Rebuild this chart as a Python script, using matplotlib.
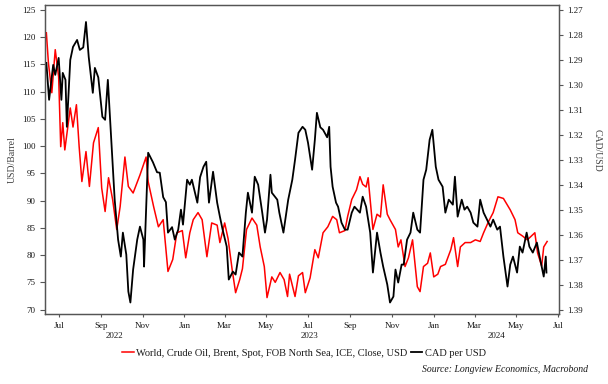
import matplotlib
matplotlib.use("Agg")
import matplotlib.pyplot as plt
import matplotlib.dates as mdates
import matplotlib.transforms as mtransforms
import pandas as pd

# Brent crude, USD/barrel (left axis)
brent_dates = [
    "2022-06-13", "2022-06-16", "2022-06-21", "2022-06-26", "2022-07-01", "2022-07-04", "2022-07-07",
    "2022-07-10", "2022-07-18", "2022-07-22", "2022-07-27", "2022-07-31", "2022-08-04", "2022-08-10",
    "2022-08-15", "2022-08-21", "2022-08-28", "2022-09-02", "2022-09-07", "2022-09-12", "2022-09-18",
    "2022-09-24", "2022-09-29", "2022-10-06", "2022-10-11", "2022-10-18", "2022-10-28", "2022-11-06",
    "2022-11-09", "2022-11-17", "2022-11-24", "2022-12-01", "2022-12-08", "2022-12-15", "2022-12-21",
    "2022-12-29", "2023-01-03", "2023-01-09", "2023-01-14", "2023-01-21", "2023-01-27", "2023-02-03",
    "2023-02-10", "2023-02-18", "2023-02-22", "2023-03-01", "2023-03-06", "2023-03-12", "2023-03-17",
    "2023-03-23", "2023-03-27", "2023-04-02", "2023-04-10", "2023-04-17", "2023-04-22", "2023-04-28",
    "2023-05-02", "2023-05-09", "2023-05-14", "2023-05-21", "2023-05-27", "2023-06-01", "2023-06-04",
    "2023-06-12", "2023-06-17", "2023-06-23", "2023-06-27", "2023-07-04", "2023-07-11", "2023-07-16",
    "2023-07-23", "2023-07-30", "2023-08-06", "2023-08-12", "2023-08-16", "2023-08-24", "2023-08-28",
    "2023-09-03", "2023-09-10", "2023-09-15", "2023-09-19", "2023-09-24", "2023-09-27", "2023-10-04",
    "2023-10-10", "2023-10-15", "2023-10-19", "2023-10-25", "2023-10-29", "2023-11-06", "2023-11-10",
    "2023-11-14", "2023-11-20", "2023-11-25", "2023-12-01", "2023-12-08", "2023-12-12", "2023-12-17",
    "2023-12-23", "2023-12-27", "2024-01-01", "2024-01-07", "2024-01-11", "2024-01-18", "2024-01-26",
    "2024-01-30", "2024-02-05", "2024-02-09", "2024-02-16", "2024-02-24", "2024-03-02", "2024-03-09",
    "2024-03-14", "2024-03-21", "2024-03-28", "2024-04-04", "2024-04-12", "2024-04-22", "2024-04-29",
    "2024-05-03", "2024-05-10", "2024-05-17", "2024-05-23", "2024-05-28", "2024-06-01", "2024-06-07",
    "2024-06-10", "2024-06-15",
]
brent_values = [
    120.8, 115.3, 109.8, 117.7, 112.7, 99.9, 104.3,
    99.3, 107.0, 103.5, 107.6, 99.9, 93.5, 99.0,
    92.6, 100.6, 103.4, 92.3, 88.0, 94.2, 90.2,
    84.7, 88.9, 98.0, 92.6, 91.4, 94.7, 98.0,
    93.5, 88.9, 85.2, 86.5, 77.0, 79.2, 84.1,
    84.5, 79.5, 84.1, 86.5, 87.8, 86.5, 79.7,
    85.9, 85.5, 82.3, 85.9, 83.0, 77.3, 73.1,
    75.5, 77.5, 84.7, 86.8, 85.5, 81.5, 77.9,
    72.2, 76.0, 75.0, 76.8, 75.5, 72.4, 76.5,
    72.4, 76.2, 76.8, 73.1, 75.8, 81.0, 79.5,
    84.1, 85.2, 87.1, 86.5, 84.1, 84.5, 87.1,
    90.2, 92.0, 94.4, 93.0, 92.5, 94.2, 84.7,
    87.5, 87.0, 92.9, 87.5, 86.5, 84.7, 81.5,
    82.8, 77.9, 79.5, 82.8, 74.2, 73.3, 77.9,
    78.5, 80.4, 76.0, 76.5, 77.9, 78.3, 81.0,
    83.2, 77.9, 81.5, 82.3, 82.3, 82.8, 82.5,
    84.1, 86.1, 87.8, 90.7, 90.4, 88.3, 86.5,
    84.1, 83.5, 82.8, 83.5, 84.1, 80.4, 78.0,
    81.5, 82.5,
]

# CAD per USD (right axis, inverted)
cad_dates = [
    "2022-06-13", "2022-06-17", "2022-06-23", "2022-06-26", "2022-07-01", "2022-07-05", "2022-07-07",
    "2022-07-11", "2022-07-13", "2022-07-18", "2022-07-22", "2022-07-28", "2022-08-01", "2022-08-06",
    "2022-08-10", "2022-08-14", "2022-08-20", "2022-08-23", "2022-08-28", "2022-09-03", "2022-09-07",
    "2022-09-11", "2022-09-17", "2022-09-21", "2022-09-26", "2022-09-30", "2022-10-03", "2022-10-08",
    "2022-10-11", "2022-10-14", "2022-10-18", "2022-10-24", "2022-10-28", "2022-11-02", "2022-11-03",
    "2022-11-09", "2022-11-16", "2022-11-22", "2022-11-26", "2022-12-01", "2022-12-05", "2022-12-08",
    "2022-12-14", "2022-12-18", "2022-12-23", "2022-12-27", "2022-12-30", "2023-01-05", "2023-01-09",
    "2023-01-12", "2023-01-20", "2023-01-24", "2023-01-29", "2023-02-02", "2023-02-06", "2023-02-12",
    "2023-02-18", "2023-02-22", "2023-02-26", "2023-03-04", "2023-03-07", "2023-03-13", "2023-03-17",
    "2023-03-22", "2023-03-27", "2023-04-01", "2023-04-04", "2023-04-10", "2023-04-14", "2023-04-19",
    "2023-04-25", "2023-04-29", "2023-05-02", "2023-05-07", "2023-05-09", "2023-05-17", "2023-05-20",
    "2023-05-26", "2023-06-02", "2023-06-08", "2023-06-12", "2023-06-17", "2023-06-23", "2023-06-27",
    "2023-07-01", "2023-07-07", "2023-07-11", "2023-07-14", "2023-07-19", "2023-07-23", "2023-07-29",
    "2023-08-01", "2023-08-03", "2023-08-06", "2023-08-11", "2023-08-14", "2023-08-19", "2023-08-24",
    "2023-08-28", "2023-09-03", "2023-09-07", "2023-09-15", "2023-09-19", "2023-09-24", "2023-09-30",
    "2023-10-04", "2023-10-10", "2023-10-15", "2023-10-19", "2023-10-25", "2023-10-29", "2023-11-03",
    "2023-11-06", "2023-11-10", "2023-11-15", "2023-11-18", "2023-11-23", "2023-11-28", "2023-12-02",
    "2023-12-08", "2023-12-12", "2023-12-17", "2023-12-21", "2023-12-26", "2023-12-30", "2024-01-04",
    "2024-01-08", "2024-01-14", "2024-01-18", "2024-01-23", "2024-01-29", "2024-02-01", "2024-02-05",
    "2024-02-11", "2024-02-15", "2024-02-19", "2024-02-24", "2024-02-28", "2024-03-05", "2024-03-09",
    "2024-03-14", "2024-03-19", "2024-03-24", "2024-03-28", "2024-04-03", "2024-04-07", "2024-04-12",
    "2024-04-18", "2024-04-22", "2024-04-26", "2024-05-02", "2024-05-06", "2024-05-10", "2024-05-16",
    "2024-05-20", "2024-05-25", "2024-05-31", "2024-06-04", "2024-06-10", "2024-06-13", "2024-06-14",
]
cad_values = [
    1.2912, 1.3060, 1.2920, 1.2960, 1.2892, 1.3060, 1.2952,
    1.2980, 1.3168, 1.2900, 1.2848, 1.2820, 1.2860, 1.2850,
    1.2748, 1.2888, 1.3032, 1.2932, 1.2970, 1.3128, 1.3140,
    1.2980, 1.3272, 1.3460, 1.3620, 1.3688, 1.3592, 1.3680,
    1.3828, 1.3872, 1.3740, 1.3620, 1.3568, 1.3620, 1.3728,
    1.3272, 1.3310, 1.3350, 1.3352, 1.3450, 1.3470, 1.3592,
    1.3570, 1.3620, 1.3580, 1.3500, 1.3560, 1.3380, 1.3400,
    1.3380, 1.3472, 1.3370, 1.3328, 1.3308, 1.3472, 1.3348,
    1.3472, 1.3528, 1.3580, 1.3648, 1.3780, 1.3748, 1.3760,
    1.3672, 1.3688, 1.3512, 1.3432, 1.3512, 1.3368, 1.3400,
    1.3512, 1.3592, 1.3540, 1.3360, 1.3432, 1.3460, 1.3512,
    1.3592, 1.3460, 1.3380, 1.3300, 1.3192, 1.3168, 1.3180,
    1.3232, 1.3340, 1.3220, 1.3112, 1.3170, 1.3180, 1.3210,
    1.3168, 1.3328, 1.3408, 1.3472, 1.3488, 1.3552, 1.3580,
    1.3580, 1.3512, 1.3488, 1.3512, 1.3448, 1.3488, 1.3592,
    1.3752, 1.3592, 1.3672, 1.3728, 1.3800, 1.3872, 1.3848,
    1.3740, 1.3792, 1.3720, 1.3720, 1.3620, 1.3592, 1.3512,
    1.3580, 1.3592, 1.3380, 1.3340, 1.3220, 1.3180, 1.3328,
    1.3380, 1.3408, 1.3512, 1.3460, 1.3480, 1.3368, 1.3528,
    1.3460, 1.3500, 1.3488, 1.3512, 1.3552, 1.3568, 1.3460,
    1.3512, 1.3540, 1.3568, 1.3540, 1.3580, 1.3568, 1.3688,
    1.3808, 1.3720, 1.3688, 1.3752, 1.3648, 1.3672, 1.3592,
    1.3648, 1.3672, 1.3632, 1.3688, 1.3768, 1.3688, 1.3752,
]

brent_label = "World, Crude Oil, Brent, Spot, FOB North Sea, ICE, Close, USD"
cad_label = "CAD per USD"
source_text = "Source: Longview Economics, Macrobond"

plt.rcParams['font.family'] = ['Liberation Serif', 'DejaVu Serif']
text_col = '#1a1a1a'

fig = plt.figure(figsize=(6.08, 3.84), dpi=100)
ax = fig.add_axes([0.074, 0.181, 0.845, 0.806])
ax2 = ax.twinx()

bd = pd.to_datetime(brent_dates)
cd = pd.to_datetime(cad_dates)

l1, = ax.plot(bd, brent_values, color='#ff0000', lw=1.1, label=brent_label)
l2, = ax2.plot(cd, cad_values, color='#000000', lw=1.3, label=cad_label)

ax.set_ylim(69.1, 125.9)
ax.set_yticks(range(70, 126, 5))
ax2.set_ylim(1.3920, 1.2680)
ax2.set_yticks([1.27 + 0.01 * i for i in range(13)])
ax2.set_yticklabels([f"{1.27 + 0.01 * i:.2f}" for i in range(13)])

xmin, xmax = pd.Timestamp("2022-06-11"), pd.Timestamp("2024-07-02")
ax.set_xlim(xmin, xmax)
ax.xaxis.set_major_locator(mdates.MonthLocator(bymonth=[1, 3, 5, 7, 9, 11]))
ax.xaxis.set_major_formatter(mdates.DateFormatter('%b'))

for a in (ax, ax2):
    for s in a.spines.values():
        s.set_color('#555555')
        s.set_linewidth(0.9)
    a.tick_params(labelsize=6.5, colors='#555555', labelcolor=text_col, width=0.8)
ax.tick_params(axis='y', length=3.5, pad=3.5)
ax.tick_params(axis='x', length=2.5, pad=3)
ax2.tick_params(axis='y', length=3, pad=3)

# year labels centred under the visible part of each year
trans = mtransforms.blended_transform_factory(ax.transData, ax.transAxes)
for yr in [2022, 2023, 2024]:
    s = max(xmin, pd.Timestamp(f"{yr}-01-01"))
    e = min(xmax, pd.Timestamp(f"{yr + 1}-01-01"))
    mid = s + (e - s) / 2
    ax.text(mid, -0.068, str(yr), transform=trans, ha='center', va='center',
            fontsize=6.5, color=text_col)

fig.text(12 / 608, 1 - 160 / 384, "USD/Barrel", rotation=90, ha='center', va='center',
         fontsize=7, color='#444444')
fig.text(597 / 608, 1 - 150 / 384, "CAD/USD", rotation=270, ha='center', va='center',
         fontsize=7, color='#444444')

fig.legend(handles=[l1, l2], loc='center', bbox_to_anchor=(0.5, 1 - 353 / 384), ncol=2,
           frameon=False, fontsize=7.5, handlelength=1.1, handletextpad=0.25, columnspacing=0.3,
           labelcolor=text_col)

fig.text(588 / 608, 1 - 370 / 384, source_text, ha='right', va='center', fontsize=7,
         style='italic', color=text_col)

fig.savefig("out.png", dpi=100)
